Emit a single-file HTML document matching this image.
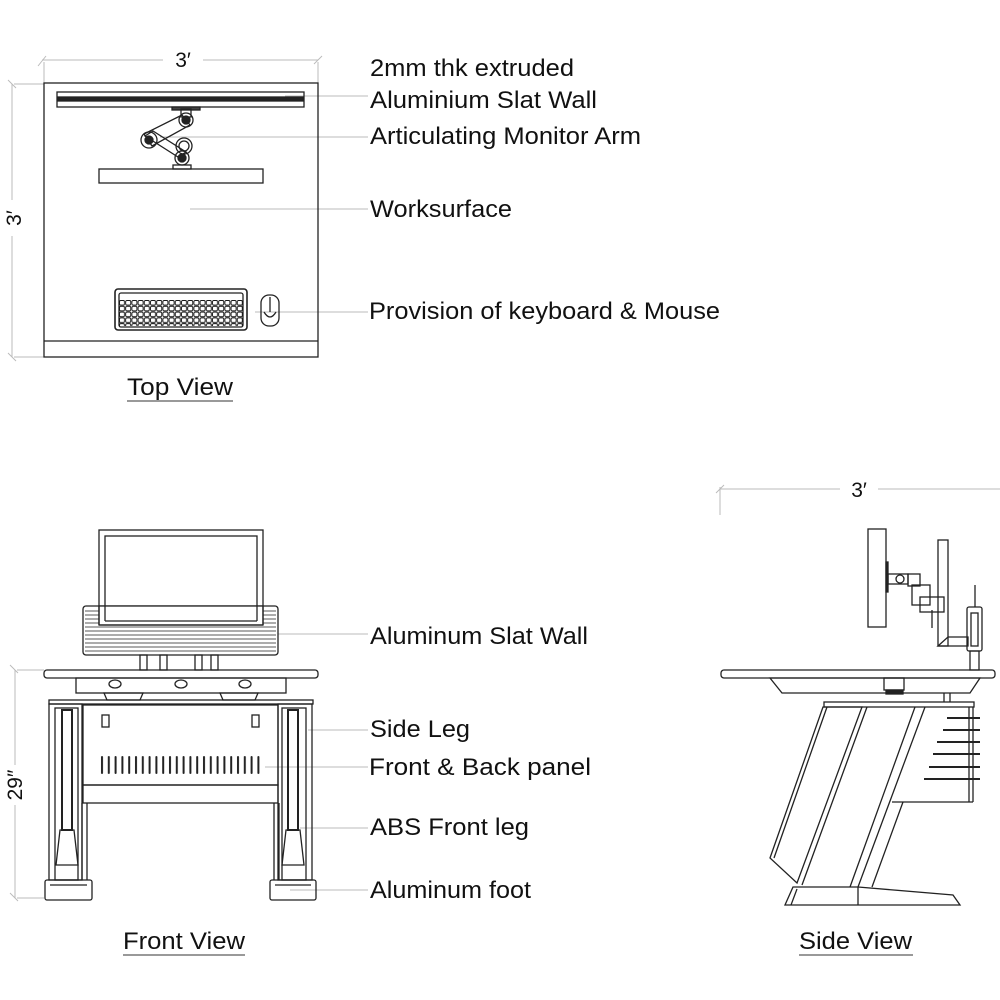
<!DOCTYPE html>
<html><head><meta charset="utf-8"><style>
html,body{margin:0;padding:0;background:#fff;}
svg{display:block;}
text{font-family:"Liberation Sans",Arial,sans-serif;fill:#111;}
</style></head><body>
<svg width="1000" height="1000" viewBox="0 0 1000 1000" xmlns="http://www.w3.org/2000/svg">
<defs>
<pattern id="keys" x="119" y="300" width="6.2" height="5.8" patternUnits="userSpaceOnUse">
<rect x="0.5" y="0.5" width="5" height="4.6" rx="1.2" fill="none" stroke="#111" stroke-width="0.9"/>
</pattern>
<pattern id="vents" x="100" y="756" width="6.8" height="20" patternUnits="userSpaceOnUse">
<rect x="1" y="0" width="2" height="18" rx="1" fill="#222"/>
</pattern>
</defs>

<g stroke="#bbb" stroke-width="1" fill="none">
<line x1="42" y1="60" x2="163" y2="60"/><line x1="203" y1="60" x2="318" y2="60"/>
<line x1="38" y1="66" x2="46" y2="56"/><line x1="314" y1="64" x2="322" y2="56"/>
<line x1="44" y1="62" x2="44" y2="83"/><line x1="318" y1="62" x2="318" y2="83"/>
<line x1="12" y1="84" x2="12" y2="200"/><line x1="12" y1="236" x2="12" y2="357"/>
<line x1="8" y1="80" x2="16" y2="88"/><line x1="8" y1="353" x2="16" y2="361"/>
<line x1="14" y1="84" x2="44" y2="84"/><line x1="14" y1="357" x2="44" y2="357"/>
<line x1="285" y1="96" x2="368" y2="96"/>
<line x1="160" y1="137" x2="368" y2="137"/>
<line x1="190" y1="209" x2="368" y2="209"/>
<line x1="255" y1="312" x2="368" y2="312"/>
<line x1="15" y1="670" x2="15" y2="765"/><line x1="15" y1="805" x2="15" y2="898"/>
<line x1="10" y1="665" x2="18" y2="673"/><line x1="10" y1="893" x2="18" y2="901"/>
<line x1="17" y1="670" x2="44" y2="670"/><line x1="17" y1="898" x2="44" y2="898"/>
<line x1="275" y1="634" x2="368" y2="634"/>
<line x1="308" y1="730" x2="368" y2="730"/>
<line x1="265" y1="767" x2="368" y2="767"/>
<line x1="300" y1="828" x2="368" y2="828"/>
<line x1="290" y1="890" x2="368" y2="890"/>
<line x1="720" y1="489" x2="840" y2="489"/><line x1="878" y1="489" x2="1000" y2="489"/>
<line x1="720" y1="487" x2="720" y2="515"/><line x1="716" y1="493" x2="724" y2="485"/>
</g>

<!-- TOP VIEW -->
<g stroke="#222" stroke-width="1.3" fill="none">
<rect x="44" y="83" width="274" height="274"/>
<line x1="44" y1="341" x2="318" y2="341"/>
<rect x="57" y="92" width="247" height="15"/>
<rect x="58" y="97" width="245" height="4" fill="#222"/>
<rect x="172" y="107" width="28" height="3" fill="#444"/>
<rect x="181" y="109" width="10" height="8"/>
<polygon points="182,115 144,134 152,146 190,125"/>
<polygon points="145,136 178,157 186,152 153,131"/>
<circle cx="186" cy="120" r="7"/><circle cx="186" cy="120" r="4" fill="#222"/>
<circle cx="149" cy="140" r="8"/><circle cx="149" cy="140" r="4" fill="#222"/>
<circle cx="184" cy="146" r="8"/><circle cx="184" cy="146" r="5"/>
<circle cx="182" cy="158" r="7"/><circle cx="182" cy="158" r="4" fill="#222"/>
<rect x="173" y="165" width="18" height="4"/>
<rect x="99" y="169" width="164" height="14"/>
<rect x="115" y="289" width="132" height="41" rx="3" stroke-width="1.6"/>
<rect x="119" y="293" width="124" height="34" rx="2"/>
<rect x="119" y="300" width="124" height="26" fill="url(#keys)" stroke="none"/>
<rect x="261" y="295" width="18" height="31" rx="8"/>
<line x1="270" y1="297" x2="270" y2="312"/>
<path d="M264,312 Q270,322 276,312"/>
</g>

<!-- FRONT VIEW -->
<g stroke="#222" stroke-width="1.3" fill="none">
<rect x="99" y="530" width="164" height="95"/>
<rect x="105" y="536" width="152" height="86"/>
<rect x="83" y="606" width="195" height="49" rx="3" fill="#fff"/>
<g stroke-width="0.8">
<line x1="85" y1="611" x2="276" y2="611"/><line x1="85" y1="615" x2="276" y2="615"/><line x1="85" y1="619" x2="276" y2="619"/>
<line x1="85" y1="623" x2="276" y2="623"/><line x1="85" y1="627" x2="276" y2="627"/><line x1="85" y1="631" x2="276" y2="631"/>
<line x1="85" y1="635" x2="276" y2="635"/><line x1="85" y1="639" x2="276" y2="639"/><line x1="85" y1="643" x2="276" y2="643"/>
<line x1="85" y1="647" x2="276" y2="647"/><line x1="85" y1="651" x2="276" y2="651"/>
</g>
<rect x="99" y="606" width="164" height="19" fill="#fff"/>
<line x1="99" y1="606" x2="99" y2="625"/><line x1="263" y1="606" x2="263" y2="625"/>
<line x1="105" y1="606" x2="105" y2="621"/><line x1="257" y1="606" x2="257" y2="621"/>
<line x1="105" y1="621" x2="257" y2="621"/><line x1="99" y1="625" x2="263" y2="625"/>
<rect x="140" y="655" width="7" height="15"/><rect x="160" y="655" width="7" height="15"/>
<rect x="195" y="655" width="7" height="15"/><rect x="211" y="655" width="7" height="15"/>
<rect x="44" y="670" width="274" height="8" rx="3"/>
<rect x="76" y="678" width="210" height="15"/>
<ellipse cx="115" cy="684" rx="6" ry="4"/><ellipse cx="181" cy="684" rx="6" ry="4"/><ellipse cx="245" cy="684" rx="6" ry="4"/>
<polygon points="104,693 143,693 140,700 107,700"/><polygon points="220,693 258,693 255,700 223,700"/>
<rect x="49" y="700" width="264" height="4"/>
<rect x="49" y="704" width="33" height="176"/>
<rect x="55" y="708" width="23" height="172"/>
<rect x="62" y="710" width="10" height="120" stroke-width="2"/>
<polygon points="60,830 74,830 78,865 56,865"/>
<rect x="278" y="704" width="34" height="176"/>
<rect x="282" y="708" width="24" height="172"/>
<rect x="288" y="710" width="10" height="120" stroke-width="2"/>
<polygon points="286,830 300,830 304,865 282,865"/>
<rect x="83" y="705" width="195" height="80"/>
<rect x="102" y="715" width="7" height="12"/><rect x="252" y="715" width="7" height="12"/>
<rect x="100" y="756" width="162" height="20" fill="url(#vents)" stroke="none"/>
<rect x="83" y="785" width="195" height="18"/>
<line x1="82" y1="803" x2="82" y2="880"/><line x1="87" y1="803" x2="87" y2="880"/>
<line x1="274" y1="803" x2="274" y2="880"/><line x1="279" y1="803" x2="279" y2="880"/>
<rect x="45" y="880" width="47" height="20" rx="2"/>
<rect x="270" y="880" width="46" height="20" rx="2"/>
<line x1="50" y1="885" x2="87" y2="885"/><line x1="275" y1="885" x2="311" y2="885"/>
</g>

<!-- SIDE VIEW -->
<g stroke="#222" stroke-width="1.3" fill="none">
<rect x="868" y="529" width="18" height="98"/>
<rect x="886" y="562" width="2" height="30" fill="#222"/>
<rect x="888" y="574" width="20" height="10"/>
<circle cx="900" cy="579" r="4"/>
<rect x="908" y="574" width="12" height="12"/>
<rect x="912" y="585" width="18" height="20"/>
<rect x="920" y="597" width="24" height="15"/>
<rect x="938" y="540" width="10" height="106"/>
<polygon points="938,646 948,637 968,637 968,646"/>
<line x1="932" y1="610" x2="932" y2="628"/>
<rect x="967" y="607" width="15" height="44" rx="2"/>
<rect x="971" y="613" width="7" height="33"/>
<line x1="975" y1="585" x2="975" y2="607"/>
<rect x="970" y="651" width="9" height="19"/>
<rect x="721" y="670" width="274" height="8" rx="3"/>
<polygon points="770,678 980,678 970,693 782,693"/>
<rect x="884" y="678" width="20" height="12"/>
<rect x="886" y="690" width="17" height="4" fill="#222"/>
<line x1="944" y1="693" x2="944" y2="702"/><line x1="950" y1="693" x2="950" y2="702"/>
<rect x="824" y="702" width="150" height="5"/>
<polygon points="823,707 770,858 797,883 862,707"/>
<line x1="827" y1="707" x2="774" y2="858"/>
<line x1="867" y1="707" x2="802" y2="885"/>
<line x1="915" y1="707" x2="850" y2="887"/>
<line x1="925" y1="707" x2="858" y2="887"/>
<line x1="973" y1="707" x2="973" y2="802"/>
<line x1="969" y1="707" x2="969" y2="802"/>
<line x1="892" y1="802" x2="973" y2="802"/>
<line x1="903" y1="802" x2="872" y2="887"/>
<g stroke-width="2">
<line x1="947" y1="718" x2="980" y2="718"/><line x1="943" y1="730" x2="980" y2="730"/>
<line x1="937" y1="742" x2="980" y2="742"/><line x1="933" y1="754" x2="980" y2="754"/>
<line x1="929" y1="767" x2="980" y2="767"/><line x1="924" y1="779" x2="980" y2="779"/>
</g>
<polygon points="793,887 858,887 953,895 960,905 785,905"/>
<line x1="858" y1="887" x2="858" y2="905"/>
<line x1="797" y1="889" x2="791" y2="905"/>
</g>

<!-- TEXT -->
<text x="183" y="67" font-size="21" text-anchor="middle">3′</text>
<text transform="translate(21,218) rotate(-90)" font-size="21" text-anchor="middle">3′</text>
<text transform="translate(22,785) rotate(-90)" font-size="21" text-anchor="middle">29″</text>
<text x="859" y="497" font-size="21" text-anchor="middle">3′</text>
<g font-size="24">
<text x="370" y="76" textLength="204" lengthAdjust="spacingAndGlyphs">2mm thk extruded</text>
<text x="370" y="108" textLength="227" lengthAdjust="spacingAndGlyphs">Aluminium Slat Wall</text>
<text x="370" y="144" textLength="271" lengthAdjust="spacingAndGlyphs">Articulating Monitor Arm</text>
<text x="370" y="217" textLength="142" lengthAdjust="spacingAndGlyphs">Worksurface</text>
<text x="369" y="319" textLength="351" lengthAdjust="spacingAndGlyphs">Provision of keyboard &amp; Mouse</text>
<text x="370" y="644" textLength="218" lengthAdjust="spacingAndGlyphs">Aluminum Slat Wall</text>
<text x="370" y="737" textLength="100" lengthAdjust="spacingAndGlyphs">Side Leg</text>
<text x="369" y="775" textLength="222" lengthAdjust="spacingAndGlyphs">Front &amp; Back panel</text>
<text x="370" y="835" textLength="159" lengthAdjust="spacingAndGlyphs">ABS Front leg</text>
<text x="370" y="898" textLength="161" lengthAdjust="spacingAndGlyphs">Aluminum foot</text>
<text x="127" y="395" textLength="106" lengthAdjust="spacingAndGlyphs">Top View</text>
<text x="123" y="949" textLength="122" lengthAdjust="spacingAndGlyphs">Front View</text>
<text x="799" y="949" textLength="113" lengthAdjust="spacingAndGlyphs">Side View</text>
</g>
<g stroke="#333" stroke-width="1">
<line x1="127" y1="401" x2="233" y2="401"/>
<line x1="123" y1="955" x2="245" y2="955"/>
<line x1="799" y1="955" x2="913" y2="955"/>
</g>
</svg>
</body></html>
